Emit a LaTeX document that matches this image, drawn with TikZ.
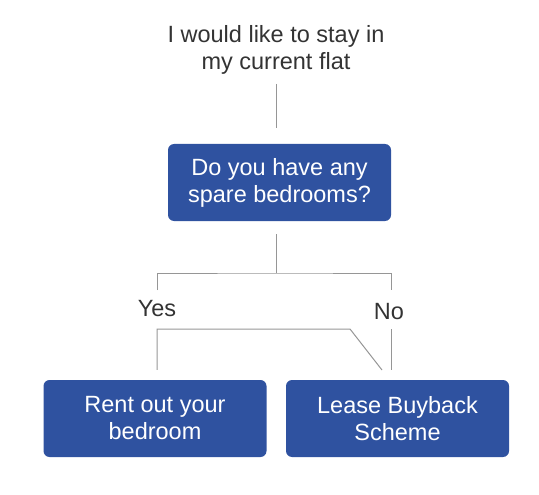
\documentclass[tikz,border=0pt]{standalone}
\usepackage{fontspec}
\setmainfont{Liberation Sans}
\usetikzlibrary{positioning}
\definecolor{boxblue}{RGB}{47,82,160}
\definecolor{wiregray}{RGB}{150,150,150}
\definecolor{inkgray}{RGB}{51,51,51}
\begin{document}
\begin{tikzpicture}[x=1pt, y=-1pt,
        choice/.style={shape=rectangle, rounded corners=6pt, fill=boxblue, text=white, minimum width=223pt, minimum height=77pt, align=center, font=\fontsize{23.5}{27}\selectfont},
        plain/.style={text=inkgray, align=center, font=\fontsize{23.5}{27}\selectfont},
        wire/.style={draw=wiregray, line width=1pt}]
        \useasboundingbox (0,0) rectangle (539,495);

        \node[plain]  (STAY)  at (276,49.5)    {I would like to stay in\\my current flat};
        \node[choice] (SPARE) at (279.5,182.5) {Do you have any\\spare bedrooms?};
        \node[plain]  (YES)   at (157,309)     {Yes};
        \node[plain]  (NO)    at (389,312)     {No};
        \node[choice] (RENT)  at (155,418.5)   {Rent out your\\bedroom};
        \node[choice] (LEASE) at (397.5,418.5) {Lease Buyback\\Scheme};

        \coordinate (SPLIT)   at (276,273);
        \coordinate (YESUP)   at (157,290);
        \coordinate (NOUP)    at (391,290);
        \coordinate (YESDN)   at (157,329);
        \coordinate (BEND)    at (350,329);
        \coordinate (NODN)    at (391,329);
        \coordinate (LEASEIN) at (382,370);

        \path [wire] (STAY.center) edge [shorten <=34.5pt, shorten >=16pt] (STAY.center |- SPARE.north);
        \path [wire] (SPARE.south -| SPLIT) edge [shorten <=13pt] (SPLIT);
        \draw [wire] (YESUP) |- (SPLIT) -| (NOUP);
        \draw [wire, shorten <=10pt] (RENT.north -| YESDN) |- (BEND) -- (LEASEIN);
        \draw [wire, shorten <=10pt] (LEASE.north -| NODN) -- (NODN);
\end{tikzpicture}
\end{document}
